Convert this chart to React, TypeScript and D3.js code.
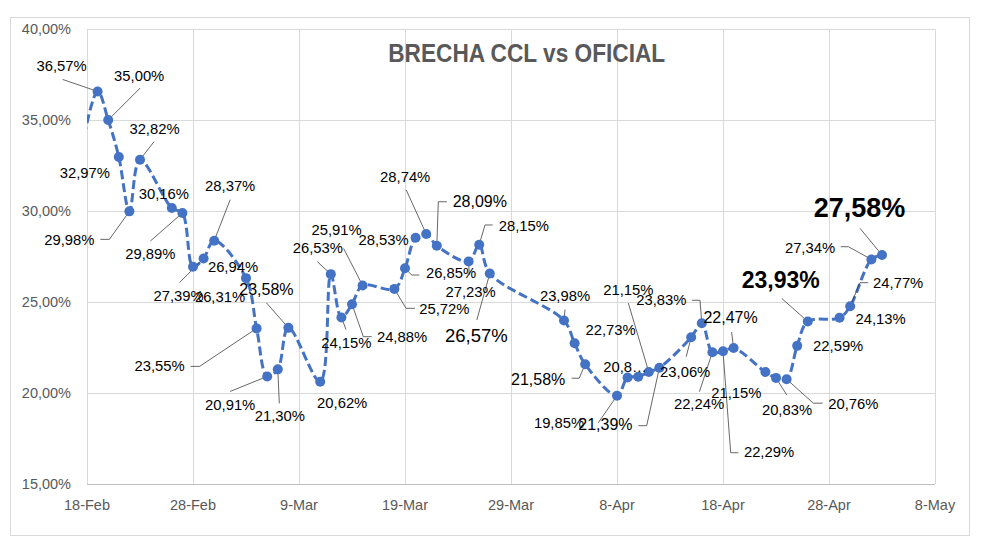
import React from 'react';
import * as d3 from 'd3';

// ---------- DATA ----------
const dates: string[] = [
  '2024-02-16', '2024-02-19', '2024-02-20', '2024-02-21', '2024-02-22', '2024-02-23',
  '2024-02-26', '2024-02-27', '2024-02-28', '2024-02-29', '2024-03-01',
  '2024-03-04', '2024-03-05', '2024-03-06', '2024-03-07', '2024-03-08',
  '2024-03-11', '2024-03-12', '2024-03-13', '2024-03-14', '2024-03-15',
  '2024-03-18', '2024-03-19', '2024-03-20', '2024-03-21', '2024-03-22',
  '2024-03-25', '2024-03-26', '2024-03-27',
  '2024-04-03', '2024-04-04', '2024-04-05',
  '2024-04-08', '2024-04-09', '2024-04-10', '2024-04-11', '2024-04-12',
  '2024-04-15', '2024-04-16', '2024-04-17', '2024-04-18', '2024-04-19',
  '2024-04-22', '2024-04-23', '2024-04-24', '2024-04-25', '2024-04-26',
  '2024-04-29', '2024-04-30', '2024-05-02', '2024-05-03',
];

const values: number[] = [
  28.5, 36.57, 35.0, 32.97, 29.98, 32.82,
  30.16, 29.89, 26.94, 27.39, 28.37,
  26.31, 23.55, 20.91, 21.3, 23.58,
  20.62, 26.53, 24.15, 24.88, 25.91,
  25.72, 26.85, 28.53, 28.74, 28.09,
  27.23, 28.15, 26.57,
  23.98, 22.73, 21.58,
  19.85, 20.85, 20.89, 21.15, 21.39,
  23.06, 23.83, 22.24, 22.29, 22.47,
  21.15, 20.83, 20.76, 22.59, 23.93,
  24.13, 24.77, 27.34, 27.58,
];

// data label texts ('' = no label)
const pointLabels: string[] = [
  '', '36,57%', '35,00%', '32,97%', '29,98%', '32,82%',
  '30,16%', '29,89%', '26,94%', '27,39%', '28,37%',
  '26,31%', '23,55%', '20,91%', '21,30%', '23,58%',
  '20,62%', '26,53%', '24,15%', '24,88%', '25,91%',
  '25,72%', '26,85%', '28,53%', '28,74%', '28,09%',
  '27,23%', '28,15%', '26,57%',
  '23,98%', '22,73%', '21,58%',
  '19,85%', '20,8…', '', '21,15%', '21,39%',
  '23,06%', '23,83%', '22,24%', '22,29%', '22,47%',
  '21,15%', '20,83%', '20,76%', '22,59%', '23,93%',
  '24,13%', '24,77%', '27,34%', '27,58%',
];

const yTicks: number[] = [15, 20, 25, 30, 35, 40];
const yTickLabels: string[] = ['15,00%', '20,00%', '25,00%', '30,00%', '35,00%', '40,00%'];
const xTicks: string[] = [
  '2024-02-18', '2024-02-28', '2024-03-09', '2024-03-19', '2024-03-29',
  '2024-04-08', '2024-04-18', '2024-04-28', '2024-05-08',
];
const xTickLabels: string[] = ['18-Feb', '28-Feb', '9-Mar', '19-Mar', '29-Mar', '8-Apr', '18-Apr', '28-Apr', '8-May'];

const title = 'BRECHA CCL vs OFICIAL';

// ---------- LABEL LAYOUT (offsets relative to each marker) ----------
type Lay = { d: [number, number]; fs?: number; bold?: boolean; lead?: [number, number][] } | null;
const labelLayout: Lay[] = [
  null,
  { d: [-36, -25], lead: [[-35, -12]] },
  { d: [31, -44], lead: [[32, -32]] },
  { d: [-34, 16] },
  { d: [-60, 29], lead: [[-29, 28], [-20, 28]] },
  { d: [14.5, -31], lead: [[14, -18]] },
  { d: [-8, -14] },
  { d: [-32, 41], lead: [[-32, 28]] },
  { d: [40, 0] },
  { d: [-25, 37], lead: [[-24, 24]] },
  { d: [16, -55], lead: [[16, -41]] },
  { d: [-26, 19] },
  { d: [-97, 38], lead: [[-66, 38], [-57, 38]] },
  { d: [-37, 29], lead: [[-37, 15]] },
  { d: [2, 47], lead: [[1.5, 34]] },
  { d: [-22, -38], fs: 16, lead: [[-22, -25]] },
  { d: [22, 21] },
  { d: [-13, -26], lead: [[-13.5, -12.5]] },
  { d: [5, 26], lead: [[4.6, 12]] },
  { d: [50, 32.5], lead: [[19.7, 32.5], [11.3, 32.5]] },
  { d: [-26, -55], lead: [[-19, -37]] },
  { d: [50, 20], lead: [[20.6, 19.4], [11.6, 19.4]] },
  { d: [46, 5], lead: [[14.3, 6.7], [6.7, 6.7]] },
  { d: [-32, 2] },
  { d: [-21, -57], lead: [[-20, -44]] },
  { d: [43, -44], fs: 16, lead: [[10, -44], [1.5, -44]] },
  { d: [2, 31], lead: [[0.7, 13.6]] },
  { d: [44.6, -19], lead: [[13.5, -19.7], [5.8, -19.7]] },
  { d: [-13.5, 62.4], fs: 18.5, lead: [[-13, 46.6]] },
  { d: [1, -25], lead: [[1, -11]] },
  { d: [36, -13] },
  { d: [-47, 15], fs: 16, lead: [[-13.5, 14], [-6, 14]] },
  { d: [-58, 27], lead: [[-18.7, 27]] },
  { d: [-2.6, -11] },
  null,
  { d: [-20.5, -82], lead: [[-20.5, -69]] },
  { d: [-54, 57], fs: 16, lead: [[-21, 58], [-12.7, 58]] },
  { d: [-6, 35], lead: [[-5, 19.4]] },
  { d: [-40.5, -23], lead: [[-10, -23], [-1.8, -23]] },
  { d: [-13.4, 52], lead: [[-13, 39.5]] },
  { d: [46, 101], lead: [[15.3, 101.4], [7.7, 101.4]] },
  { d: [-3, -31], fs: 16, lead: [[-2, -16]] },
  { d: [-29, 21] },
  { d: [11, 32], lead: [[10.7, 17]] },
  { d: [66.7, 25], lead: [[36, 24], [26.7, 24]] },
  { d: [41, 0] },
  { d: [-27, -41.5], fs: 23, bold: true, lead: [[-26, -23]] },
  { d: [41, 1.4] },
  { d: [48, -23], lead: [[18, -23.5], [9.8, -23.5]] },
  { d: [-61.4, -11.6], lead: [[-30.7, -12.7], [-23, -12.7]] },
  { d: [-22.5, -46.7], fs: 27, bold: true, lead: [[-22, -26.7]] },
];

const W = 981;
const H = 547;
const FONT = '"Liberation Sans", Arial, sans-serif';
const BLUE = '#4472C4';
const GRID = '#d9d9d9';
const AXIS_TEXT = '#595959';

const parse = d3.utcParse('%Y-%m-%d');

export default function App() {
  const x = d3
    .scaleUtc()
    .domain([parse(xTicks[0])!, parse(xTicks[xTicks.length - 1])!])
    .range([87, 935]);
  const y = d3.scaleLinear().domain([15, 40]).range([484, 29]);

  const pts = dates.map((d, i) => ({ px: x(parse(d)!), py: y(values[i]), i }));
  const line = d3
    .line<{ px: number; py: number }>()
    .x((p) => p.px)
    .y((p) => p.py)
    .curve(d3.curveCatmullRom.alpha(0.5));

  const x0 = x.range()[0];
  const x1 = x.range()[1];
  const y0 = y.range()[0];
  const y1 = y.range()[1];

  return (
    <svg
      width={W}
      height={H}
      style={{ position: 'absolute', left: 0, top: 0, background: '#fff' }}
      fontFamily={FONT}
    >
      <rect x={0} y={0} width={W} height={H} fill="#fff" />
      <rect x={10.5} y={17.5} width={959} height={518} fill="#fff" stroke={GRID} strokeWidth={1} />
      <defs>
        <clipPath id="plotClip">
          <rect x={x0} y={0} width={x1 - x0} height={H} />
        </clipPath>
      </defs>

      {/* gridlines */}
      {yTicks.map((t) => (
        <line key={'gy' + t} x1={x0} x2={x1} y1={Math.round(y(t)) + 0.5} y2={Math.round(y(t)) + 0.5} stroke={t === 15 ? '#bfbfbf' : GRID} strokeWidth={1} />
      ))}
      {xTicks.map((t) => {
        const xx = Math.round(x(parse(t)!)) + 0.5;
        return <line key={'gx' + t} x1={xx} x2={xx} y1={y1} y2={y0} stroke={GRID} strokeWidth={1} />;
      })}

      {/* axis labels */}
      {yTicks.map((t, i) => (
        <text key={'ty' + t} x={71} y={y(t)} textAnchor="end" dominantBaseline="central" fontSize={14.5} fill={AXIS_TEXT}>
          {yTickLabels[i]}
        </text>
      ))}
      {xTicks.map((t, i) => (
        <text key={'tx' + t} x={x(parse(t)!)} y={505} textAnchor="middle" dominantBaseline="central" fontSize={14.5} fill={AXIS_TEXT}>
          {xTickLabels[i]}
        </text>
      ))}

      {/* title */}
      <text x={526.7} y={61.7} textAnchor="middle" fontSize={25} fontWeight="bold" fill={AXIS_TEXT} textLength={277} lengthAdjust="spacingAndGlyphs">
        {title}
      </text>

      {/* series line */}
      <path d={line(pts) || ''} fill="none" stroke={BLUE} strokeWidth={3} strokeDasharray="9,4" clipPath="url(#plotClip)" />

      {/* leader lines */}
      {pts.map((p) => {
        const lay = labelLayout[p.i];
        if (!lay || !lay.lead || !pointLabels[p.i]) return null;
        const all = [...lay.lead, [0, 0]].map(([a, b]) => `${p.px + a},${p.py + b}`).join(' ');
        return <polyline key={'ld' + p.i} points={all} fill="none" stroke="#404040" strokeWidth={0.8} />;
      })}

      {/* markers */}
      {pts.map((p) =>
        p.px >= x0 ? <circle key={'m' + p.i} cx={p.px} cy={p.py} r={5} fill={BLUE} /> : null
      )}

      {/* data labels */}
      {pts.map((p) => {
        const lay = labelLayout[p.i];
        const txt = pointLabels[p.i];
        if (!lay || !txt) return null;
        return (
          <text
            key={'lb' + p.i}
            x={p.px + lay.d[0]}
            y={p.py + lay.d[1]}
            textAnchor="middle"
            dominantBaseline="central"
            fontSize={lay.fs ?? 14.8}
            fontWeight={lay.bold ? 'bold' : 'normal'}
            fill="#000"
          >
            {txt}
          </text>
        );
      })}
    </svg>
  );
}
